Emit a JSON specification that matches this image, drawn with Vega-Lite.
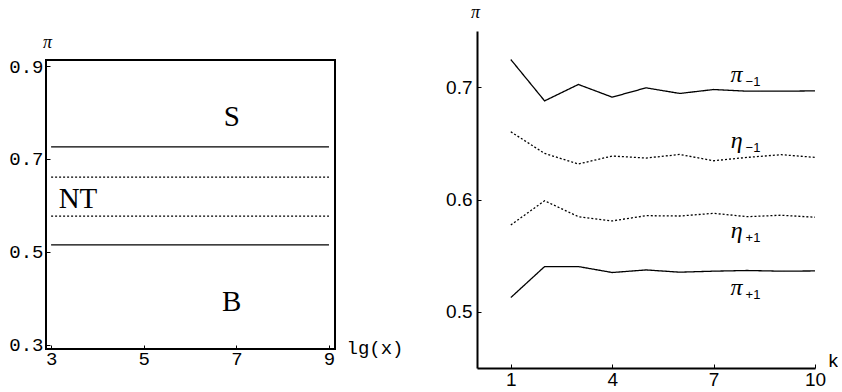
{
  "$schema": "https://vega.github.io/schema/vega-lite/v6.json",
  "background": "white",
  "padding": {"left": 7, "top": 3, "right": 0, "bottom": 0},
  "spacing": 40,
  "config": {
    "view": {"stroke": null},
    "axis": {"grid": false, "labelColor": "#000", "titleColor": "#000", "tickColor": "#000", "domainColor": "#000", "labelFlush": false, "labelOverlap": false}
  },
  "datasets": {
    "levels": [
      {"name": "π−1", "kind": "π", "pi": 0.726},
      {"name": "η−1", "kind": "η", "pi": 0.661},
      {"name": "η+1", "kind": "η", "pi": 0.577},
      {"name": "π+1", "kind": "π", "pi": 0.515}
    ],
    "regions": [
      {"label": "S", "x": 6.9, "y": 0.791},
      {"label": "NT", "x": 3.58, "y": 0.614},
      {"label": "B", "x": 6.9, "y": 0.392}
    ],
    "series": [
      {"s": "π−1", "kind": "π", "k": 1, "v": 0.7246},
      {"s": "π−1", "kind": "π", "k": 2, "v": 0.6878},
      {"s": "π−1", "kind": "π", "k": 3, "v": 0.7024},
      {"s": "π−1", "kind": "π", "k": 4, "v": 0.6911},
      {"s": "π−1", "kind": "π", "k": 5, "v": 0.6994},
      {"s": "π−1", "kind": "π", "k": 6, "v": 0.6944},
      {"s": "π−1", "kind": "π", "k": 7, "v": 0.6979},
      {"s": "π−1", "kind": "π", "k": 8, "v": 0.6964},
      {"s": "π−1", "kind": "π", "k": 9, "v": 0.6964},
      {"s": "π−1", "kind": "π", "k": 10, "v": 0.6967},
      {"s": "η−1", "kind": "η", "k": 1, "v": 0.6603},
      {"s": "η−1", "kind": "η", "k": 2, "v": 0.641},
      {"s": "η−1", "kind": "η", "k": 3, "v": 0.6316},
      {"s": "η−1", "kind": "η", "k": 4, "v": 0.6387},
      {"s": "η−1", "kind": "η", "k": 5, "v": 0.6369},
      {"s": "η−1", "kind": "η", "k": 6, "v": 0.6401},
      {"s": "η−1", "kind": "η", "k": 7, "v": 0.6345},
      {"s": "η−1", "kind": "η", "k": 8, "v": 0.6375},
      {"s": "η−1", "kind": "η", "k": 9, "v": 0.6399},
      {"s": "η−1", "kind": "η", "k": 10, "v": 0.6375},
      {"s": "η+1", "kind": "η", "k": 1, "v": 0.5773},
      {"s": "η+1", "kind": "η", "k": 2, "v": 0.5989},
      {"s": "η+1", "kind": "η", "k": 3, "v": 0.5847},
      {"s": "η+1", "kind": "η", "k": 4, "v": 0.5809},
      {"s": "η+1", "kind": "η", "k": 5, "v": 0.5856},
      {"s": "η+1", "kind": "η", "k": 6, "v": 0.5853},
      {"s": "η+1", "kind": "η", "k": 7, "v": 0.5877},
      {"s": "η+1", "kind": "η", "k": 8, "v": 0.5847},
      {"s": "η+1", "kind": "η", "k": 9, "v": 0.586},
      {"s": "η+1", "kind": "η", "k": 10, "v": 0.5842},
      {"s": "π+1", "kind": "π", "k": 1, "v": 0.5127},
      {"s": "π+1", "kind": "π", "k": 2, "v": 0.5403},
      {"s": "π+1", "kind": "π", "k": 3, "v": 0.5403},
      {"s": "π+1", "kind": "π", "k": 4, "v": 0.535},
      {"s": "π+1", "kind": "π", "k": 5, "v": 0.5373},
      {"s": "π+1", "kind": "π", "k": 6, "v": 0.5353},
      {"s": "π+1", "kind": "π", "k": 7, "v": 0.5362},
      {"s": "π+1", "kind": "π", "k": 8, "v": 0.5368},
      {"s": "π+1", "kind": "π", "k": 9, "v": 0.5362},
      {"s": "π+1", "kind": "π", "k": 10, "v": 0.5364}
    ],
    "labels": [
      {"sym": "π", "sub": "−1", "k": 7.68, "v": 0.7044},
      {"sym": "η", "sub": "−1", "k": 7.68, "v": 0.6458},
      {"sym": "η", "sub": "+1", "k": 7.68, "v": 0.5658},
      {"sym": "π", "sub": "+1", "k": 7.68, "v": 0.5151}
    ]
  },
  "hconcat": [
    {
      "spacing": 0,
      "vconcat": [
        {
          "width": 289,
          "height": 1,
          "data": {"values": []},
          "mark": "point"
        },
        {
          "width": 289,
          "height": 289,
          "view": {"stroke": "#000", "strokeWidth": 2},
          "layer": [
            {
              "data": {"name": "levels"},
              "mark": {"type": "rule", "color": "#000", "strokeWidth": 1.2},
              "encoding": {
                "x": {
                  "datum": 3, "type": "quantitative",
                  "scale": {"domain": [2.89, 9.13], "nice": false, "zero": false},
                  "axis": {
                    "values": [3, 5, 7, 9], "domain": false, "tickSize": -4, "labelPadding": 4,
                    "labelFont": "Liberation Mono", "labelFontSize": 19,
                    "title": "lg(x)", "titleFont": "Liberation Mono", "titleFontSize": 19, "titleFontWeight": "normal",
                    "titleX": 300, "titleY": -2, "titleAlign": "left", "titleBaseline": "middle", "titleAnchor": "start"
                  }
                },
                "x2": {"datum": 9},
                "y": {
                  "field": "pi", "type": "quantitative",
                  "scale": {"domain": [0.291, 0.913], "nice": false, "zero": false},
                  "axis": {
                    "values": [0.3, 0.5, 0.7, 0.9], "format": ".1f", "domain": false, "tickSize": -4, "labelPadding": 7,
                    "labelFont": "Liberation Mono", "labelFontSize": 19,
                    "title": "π", "titleFont": "Liberation Serif", "titleFontStyle": "italic", "titleFontWeight": "normal", "titleFontSize": 18,
                    "titleAngle": 0, "titleX": 1, "titleY": -13, "titleAlign": "center", "titleBaseline": "alphabetic"
                  }
                },
                "strokeDash": {
                  "field": "kind", "type": "nominal",
                  "scale": {"domain": ["π", "η"], "range": [[1, 0], [2, 2]]},
                  "legend": null
                }
              }
            },
            {
              "data": {"name": "regions"},
              "mark": {"type": "text", "font": "Liberation Serif", "fontSize": 29, "color": "#000", "baseline": "middle", "align": "center"},
              "encoding": {
                "x": {"field": "x", "type": "quantitative"},
                "y": {"field": "y", "type": "quantitative"},
                "text": {"field": "label"}
              }
            }
          ]
        }
      ]
    },
    {
      "width": 338,
      "height": 337,
      "layer": [
        {
          "data": {"name": "series"},
          "mark": {"type": "line", "color": "#000", "strokeWidth": 1.3},
          "encoding": {
            "x": {
              "field": "k", "type": "quantitative",
              "scale": {"domain": [0, 10], "nice": false, "zero": false},
              "axis": {
                "values": [1, 4, 7, 10], "domainWidth": 2, "tickSize": -4, "labelPadding": 6,
                "labelFont": "Liberation Sans", "labelFontSize": 19,
                "title": "k", "titleFont": "Liberation Sans", "titleFontSize": 19, "titleFontWeight": "normal",
                "titleX": 351, "titleY": -2, "titleAlign": "left", "titleBaseline": "alphabetic", "titleAnchor": "start"
              }
            },
            "y": {
              "field": "v", "type": "quantitative",
              "scale": {"domain": [0.45, 0.75], "nice": false, "zero": false},
              "axis": {
                "values": [0.5, 0.6, 0.7], "format": ".1f", "domainWidth": 2, "tickSize": -4, "labelPadding": 9,
                "labelFont": "Liberation Sans", "labelFontSize": 19,
                "title": "π", "titleFont": "Liberation Serif", "titleFontStyle": "italic", "titleFontWeight": "normal", "titleFontSize": 18,
                "titleAngle": 0, "titleX": -2, "titleY": -14, "titleAlign": "center", "titleBaseline": "alphabetic"
              }
            },
            "detail": {"field": "s", "type": "nominal"},
            "strokeDash": {
              "field": "kind", "type": "nominal",
              "scale": {"domain": ["π", "η"], "range": [[1, 0], [2, 2]]},
              "legend": null
            }
          }
        },
        {
          "data": {"name": "labels"},
          "mark": {"type": "text", "font": "Liberation Serif", "fontStyle": "italic", "fontSize": 24, "color": "#000", "baseline": "alphabetic", "align": "center"},
          "encoding": {
            "x": {"field": "k", "type": "quantitative"},
            "y": {"field": "v", "type": "quantitative"},
            "text": {"field": "sym"}
          }
        },
        {
          "data": {"name": "labels"},
          "mark": {"type": "text", "font": "Liberation Sans", "fontSize": 13, "color": "#000", "baseline": "alphabetic", "align": "left", "dx": 9, "dy": 4},
          "encoding": {
            "x": {"field": "k", "type": "quantitative"},
            "y": {"field": "v", "type": "quantitative"},
            "text": {"field": "sub"}
          }
        }
      ]
    }
  ]
}
